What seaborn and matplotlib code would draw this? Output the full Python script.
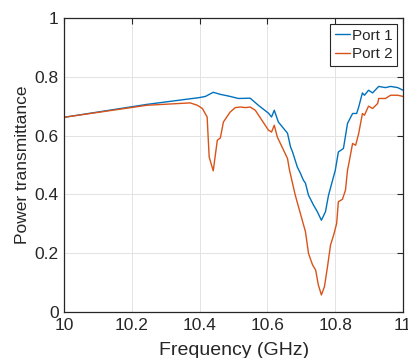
import numpy as np
import pandas as pd
import matplotlib
matplotlib.use('Agg')
import matplotlib.pyplot as plt
import seaborn as sns

# Port 1
freq_p1 = [10.0, 10.245, 10.399, 10.417, 10.44, 10.461, 10.49, 10.514, 10.549, 10.573,
           10.603, 10.612, 10.62, 10.632, 10.659, 10.668, 10.674, 10.688, 10.697, 10.706,
           10.712, 10.721, 10.736, 10.747, 10.759, 10.771, 10.78, 10.792, 10.8, 10.809,
           10.824, 10.836, 10.851, 10.863, 10.869, 10.88, 10.886, 10.898, 10.91, 10.928,
           10.948, 10.963, 10.984, 11.0]
trans_p1 = [0.662, 0.706, 0.729, 0.733, 0.747, 0.740, 0.733, 0.726, 0.727, 0.703,
            0.676, 0.663, 0.686, 0.646, 0.608, 0.561, 0.544, 0.493, 0.472, 0.448,
            0.438, 0.397, 0.363, 0.341, 0.312, 0.341, 0.397, 0.448, 0.482, 0.544,
            0.556, 0.641, 0.675, 0.675, 0.697, 0.745, 0.737, 0.754, 0.745, 0.767,
            0.763, 0.767, 0.763, 0.754]

# Port 2
freq_p2 = [10.0, 10.245, 10.372, 10.393, 10.408, 10.422, 10.428, 10.44, 10.452, 10.461,
           10.47, 10.49, 10.505, 10.52, 10.535, 10.549, 10.564, 10.579, 10.603, 10.612,
           10.62, 10.629, 10.659, 10.665, 10.674, 10.682, 10.697, 10.712, 10.721, 10.733,
           10.742, 10.75, 10.759, 10.768, 10.777, 10.786, 10.795, 10.804, 10.809, 10.821,
           10.83, 10.836, 10.839, 10.851, 10.86, 10.869, 10.88, 10.886, 10.898, 10.91,
           10.925, 10.928, 10.948, 10.963, 10.984, 11.0]
trans_p2 = [0.662, 0.703, 0.711, 0.703, 0.692, 0.663, 0.527, 0.480, 0.584, 0.592,
            0.646, 0.680, 0.695, 0.697, 0.695, 0.697, 0.686, 0.660, 0.618, 0.612,
            0.635, 0.595, 0.522, 0.482, 0.437, 0.397, 0.335, 0.273, 0.199, 0.160,
            0.143, 0.092, 0.058, 0.086, 0.154, 0.228, 0.261, 0.301, 0.375, 0.383,
            0.414, 0.482, 0.499, 0.573, 0.567, 0.607, 0.675, 0.669, 0.700, 0.692,
            0.709, 0.726, 0.726, 0.737, 0.737, 0.733]

x_ticks = [10, 10.2, 10.4, 10.6, 10.8, 11]
x_labels = ['10', '10.2', '10.4', '10.6', '10.8', '11']
y_ticks = [0, 0.2, 0.4, 0.6, 0.8, 1]
y_labels = ['0', '0.2', '0.4', '0.6', '0.8', '1']

dados = pd.concat([
    pd.DataFrame({'Frequency': freq_p1, 'T': trans_p1, 'Porta': 'Port 1'}),
    pd.DataFrame({'Frequency': freq_p2, 'T': trans_p2, 'Porta': 'Port 2'}),
])

# Estilo
sns.set_style("white")
plt.rcParams['font.family'] = ['Liberation Sans', 'DejaVu Sans']

fig = plt.figure(figsize=(4.08, 3.58), dpi=100)
ax = fig.add_axes([0.157, 0.1285, 0.831, 0.8215])
sns.lineplot(data=dados, x='Frequency', y='T', hue='Porta',
             palette=['#0072BD', '#D95319'], linewidth=1.0, ax=ax, sort=False)

ax.set_xlim(10, 11)
ax.set_ylim(0, 1)
ax.set_xticks(x_ticks)
ax.set_xticklabels(x_labels)
ax.set_yticks(y_ticks)
ax.set_yticklabels(y_labels)
ax.tick_params(direction='in', length=4, width=0.8, labelsize=12.5, color='#262626',
               labelcolor='#262626', top=True, right=True, pad=4)
ax.grid(True, color='#e3e3e3', linewidth=0.7)
for s in ax.spines.values():
    s.set_color('#262626')
    s.set_linewidth(0.9)
ax.set_xlabel('Frequency (GHz)', fontsize=14, color='#262626', labelpad=7)
ax.set_ylabel('Power transmittance', fontsize=12.5, color='#262626', labelpad=3)

leg = ax.legend(loc='upper right', fontsize=11, handlelength=1.0, handletextpad=0.1,
                borderpad=0.3, labelspacing=0.3, borderaxespad=0.4, fancybox=False,
                framealpha=1, edgecolor='#262626', title=None)
leg.get_frame().set_linewidth(0.8)

plt.savefig('out.png', dpi=100)
